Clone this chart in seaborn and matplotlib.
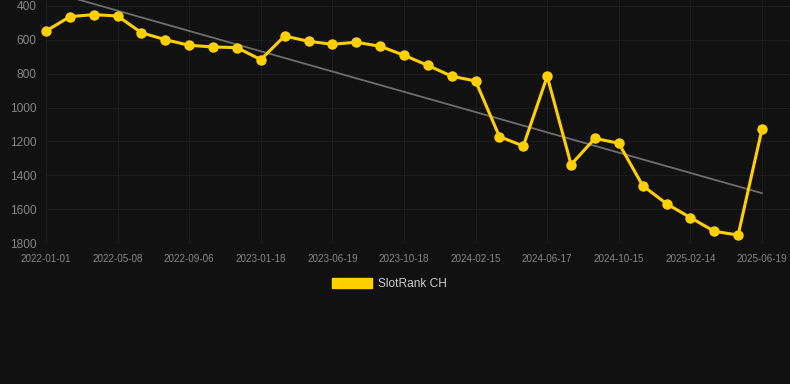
import numpy as np
import pandas as pd
import matplotlib
matplotlib.use("Agg")
import matplotlib.pyplot as plt
from matplotlib.patches import Patch
import seaborn as sns

dates = [
    "2022-01-01", "2022-02-12", "2022-03-26", "2022-05-08", "2022-06-17",
    "2022-07-27", "2022-09-06", "2022-10-20", "2022-12-03", "2023-01-18",
    "2023-03-08", "2023-04-30", "2023-06-19", "2023-07-30", "2023-09-08",
    "2023-10-18", "2023-11-28", "2024-01-06", "2024-02-15", "2024-03-28",
    "2024-05-07", "2024-06-17", "2024-07-27", "2024-09-05", "2024-10-15",
    "2024-11-25", "2025-01-04", "2025-02-14", "2025-03-27", "2025-05-08",
    "2025-06-19",
]
rank = [
    548, 463, 451, 459, 558, 599, 632, 642, 646, 717,
    577, 609, 626, 614, 638, 691, 751, 815, 843, 1172,
    1227, 815, 1337, 1182, 1211, 1461, 1568, 1650, 1731, 1753,
    1127,
]
tick_labels = dates[::3]
y_ticks = [400, 600, 800, 1000, 1200, 1400, 1600, 1800]

bg = "#111111"
gold = "#FFD000"

sns.set_theme(style="dark")
plt.rcParams["font.family"] = ["Liberation Sans", "DejaVu Sans"]

df = pd.DataFrame({"date": dates, "rank": rank})
df["idx"] = np.arange(len(df))

fig = plt.figure(figsize=(7.9, 3.84), dpi=100, facecolor=bg)
ax = fig.add_axes([46 / 790, 1 - 243 / 384, 744 / 790, 243 / 384])
ax.set_facecolor(bg)

# linear trend
sns.regplot(data=df, x="idx", y="rank", scatter=False, ci=None, truncate=True,
            ax=ax, line_kws={"color": "#6e6e6e", "lw": 1.3, "zorder": 2})

sns.lineplot(data=df, x="idx", y="rank", ax=ax, color=gold, lw=2.2,
             marker="o", markersize=7.5, markeredgewidth=0, sort=False,
             zorder=3)
ax.lines[-1].set_clip_on(False)

ax.set_ylim(1800, 364.6)
ax.set_xlim(0, 30 + 28 / 23.87)
ax.set_yticks(y_ticks)
ax.set_xticks(df["idx"][::3])
ax.set_xticklabels(tick_labels)
ax.set_xlabel("")
ax.set_ylabel("")

ax.grid(True, color="#1c1c1c", lw=0.8)
for s in ax.spines.values():
    s.set_visible(False)
ax.axhline(1800, color="#262626", lw=0.9, zorder=1)
ax.tick_params(axis="y", colors="#858585", labelsize=8.6, length=0, pad=7)
ax.tick_params(axis="x", colors="#858585", labelsize=7.1, length=0, pad=8)

handles = [Patch(facecolor=gold, edgecolor=gold, label="SlotRank CH")]
fig.legend(handles=handles, loc="center", bbox_to_anchor=(0.493, 1 - 284 / 384),
           frameon=False, fontsize=8.6, labelcolor="#cccccc",
           handlelength=3.3, handleheight=1.0, handletextpad=0.5)

fig.savefig("out.png", dpi=100, facecolor=bg)
